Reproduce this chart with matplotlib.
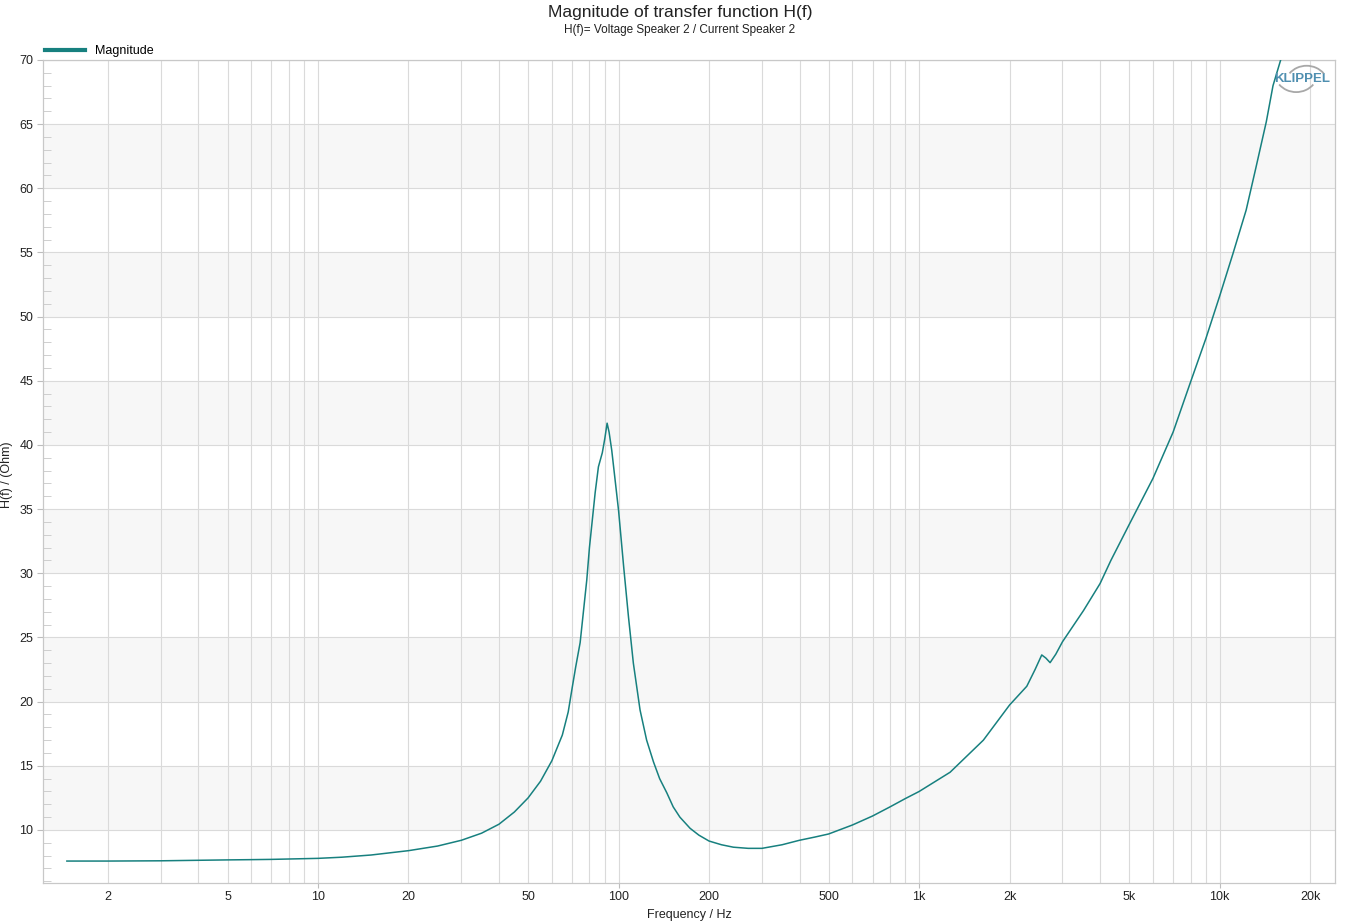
import matplotlib
matplotlib.use("Agg")
import matplotlib.pyplot as plt
from matplotlib.ticker import FixedLocator, FuncFormatter, NullFormatter
from matplotlib.patches import Arc
import numpy as np

# ---- data ----
freq_hz = [1.46, 2, 3, 4, 5, 6, 7, 8, 10, 12, 15, 20, 25, 30, 35, 40, 45, 50, 55,
           60, 65, 68, 70, 72, 74.5, 78.4, 80, 83.6, 85.7, 88.3, 90, 91.6, 93, 94.9,
           100, 104, 107.9, 112, 117.9, 124, 130.7, 137, 144.7, 152, 160, 173, 185, 200,
           220, 241, 270, 300, 350, 400, 450, 500, 600, 700, 800, 900, 1000, 1268,
           1636, 2000, 2282, 2431, 2559, 2640, 2728, 2850, 3000, 3524, 4000,
           4345, 5000, 6000, 7000, 8000, 9000, 10000, 11070, 12250, 13200, 14300,
           15050, 16100, 17000]
magnitude_ohm = [7.58, 7.58, 7.6, 7.64, 7.67, 7.69, 7.71, 7.74, 7.79, 7.88, 8.05, 8.39,
                 8.75, 9.2, 9.75, 10.45, 11.4, 12.5, 13.8, 15.4, 17.4, 19.2, 21.0,
                 22.7, 24.6, 29.5, 32.0, 36.3, 38.3, 39.4, 40.5, 41.7, 41.0, 39.6,
                 34.9, 30.5, 26.6, 23.0, 19.35, 17.0, 15.3, 14.0, 12.9, 11.8, 11.0, 10.13,
                 9.6, 9.14, 8.85, 8.66, 8.57, 8.57, 8.85, 9.2, 9.45, 9.69, 10.39,
                 11.09, 11.8, 12.45, 13.0, 14.5, 17.0, 19.74, 21.2, 22.5, 23.64,
                 23.4, 23.04, 23.7, 24.67, 27.1, 29.2, 31.0, 33.8, 37.4, 41.0, 44.9,
                 48.3, 51.6, 54.9, 58.3, 61.6, 65.2, 68.0, 70.3, 72.5]

x_decades = [10, 100, 1000, 10000]
x_label_mantissas = [2, 5]
y_ticks = list(range(10, 71, 5))
band_starts = [10, 20, 30, 40, 50, 60]

title = "Magnitude of transfer function H(f)"
subtitle = "H(f)= Voltage Speaker 2 / Current Speaker 2"
series_name = "Magnitude"

# ---- style ----
plt.rcParams['font.family'] = ['Liberation Sans', 'DejaVu Sans']
line_color = '#17807f'
grid_color = '#dadada'
text_color = '#222222'

fig = plt.figure(figsize=(13.62, 9.22), dpi=100)
ax = fig.add_axes([43 / 1362, 1 - 883 / 922, (1335 - 43) / 1362, (883 - 60) / 922])

ax.set_xscale('log')
ax.set_xlim(1.216, 24200)
ax.set_ylim(5.87, 70)

for b in band_starts:
    ax.axhspan(b, b + 5, color='#f7f7f7', zorder=0, lw=0)

ax.plot(freq_hz, magnitude_ohm, color=line_color, lw=1.1, label=series_name, zorder=3)

# x ticks
ax.xaxis.set_major_locator(FixedLocator(x_decades))
def major_fmt(v, pos):
    return f"{int(v/1000)}k" if v >= 1000 else f"{int(v)}"
ax.xaxis.set_major_formatter(FuncFormatter(major_fmt))
minor_x = [m * 10 ** e for e in range(0, 5) for m in range(2, 10)]
ax.xaxis.set_minor_locator(FixedLocator(minor_x))
def minor_fmt(v, pos):
    e = int(np.floor(np.log10(v) + 1e-9))
    m = round(v / 10 ** e)
    if m in x_label_mantissas:
        return f"{int(v/1000)}k" if v >= 1000 else f"{int(v)}"
    return ""
ax.xaxis.set_minor_formatter(FuncFormatter(minor_fmt))
ax.tick_params(axis='x', which='major', length=3.5, color='#bdbdbd', labelsize=9,
               labelcolor=text_color, pad=2.5)
ax.tick_params(axis='x', which='minor', length=0, labelsize=9, labelcolor=text_color, pad=6)

# y ticks
ax.set_yticks(y_ticks)
ax.yaxis.set_minor_locator(FixedLocator([v for v in range(6, 70) if v % 5 != 0]))
ax.yaxis.set_minor_formatter(NullFormatter())
ax.tick_params(axis='y', which='major', length=4, direction='out', color='#bdbdbd',
               labelsize=9, labelcolor=text_color, pad=3)
ax.tick_params(axis='y', which='minor', length=6, direction='in', color='#c8c8c8')

ax.grid(True, which='major', axis='y', color=grid_color, lw=0.8, zorder=1)
ax.grid(True, which='both', axis='x', color=grid_color, lw=0.8, zorder=1)
ax.set_axisbelow(True)

for s in ax.spines.values():
    s.set_color('#c8c8c8')
    s.set_linewidth(0.9)

ax.set_xlabel("Frequency / Hz", fontsize=9, color=text_color)
ax.xaxis.set_label_coords(0.5, -0.032)
fig.text(1 / 1362, 1 - 475 / 922, "H(f) / (Ohm)", rotation=90, ha='left', va='center',
         fontsize=9, color=text_color)

fig.text(680 / 1362, 1 - 12 / 922, title, ha='center', va='center', fontsize=12.5,
         color=text_color)
fig.text(680 / 1362, 1 - 30 / 922, subtitle, ha='center', va='center', fontsize=8.5,
         color=text_color)

leg = ax.legend(loc='lower left', bbox_to_anchor=(0.0005, 1.002), frameon=False,
                fontsize=9, handlelength=3.2, borderaxespad=0, borderpad=0.1,
                handletextpad=0.8)
for h in leg.get_lines():
    h.set_linewidth(3)

# KLIPPEL logo
ax.text(0.9745, 0.977, "KLIPPEL", transform=ax.transAxes, ha='center', va='center',
        fontsize=9.5, fontweight='bold', color='#4f8fb0', zorder=5)
ax.add_patch(Arc((0.978, 0.968), 0.034, 0.05, theta1=50, theta2=130,
                 transform=ax.transAxes, color='#a8a8a8', lw=1.3, zorder=5))
ax.add_patch(Arc((0.970, 0.986), 0.034, 0.05, theta1=230, theta2=310,
                 transform=ax.transAxes, color='#a8a8a8', lw=1.3, zorder=5))

fig.savefig("out.png", dpi=100, facecolor='white')
